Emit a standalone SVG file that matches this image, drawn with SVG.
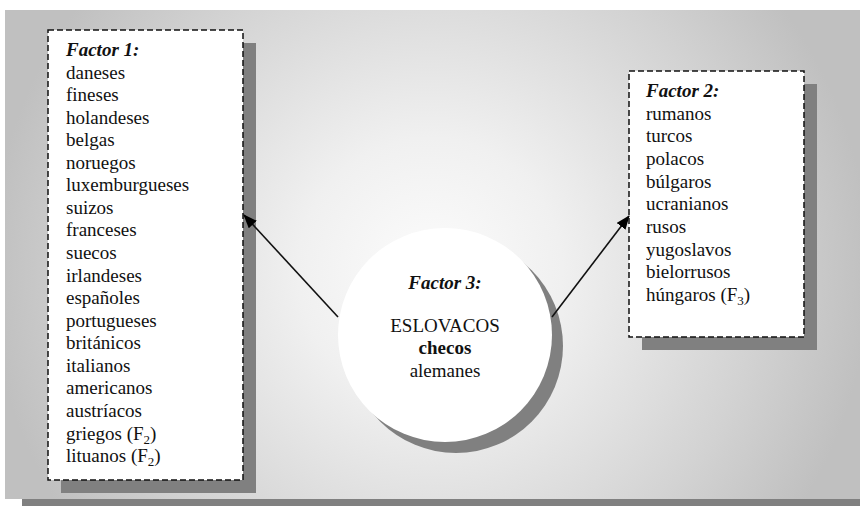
<svg xmlns="http://www.w3.org/2000/svg" width="860" height="506" viewBox="0 0 860 506">
<defs>
<radialGradient id="bg" gradientUnits="userSpaceOnUse" cx="430" cy="270" r="440">
<stop offset="0" stop-color="#fcfcfc"/>
<stop offset="0.3" stop-color="#f0f0f0"/>
<stop offset="0.75" stop-color="#d2d2d2"/>
<stop offset="1" stop-color="#c0c0c0"/>
</radialGradient>
<marker id="ah" markerWidth="14" markerHeight="11" refX="13" refY="5.5" orient="auto" markerUnits="userSpaceOnUse">
<path d="M0,0 L14,5.5 L0,11 Z" fill="#000"/>
</marker>
</defs>
<style>
.t{font-family:"Liberation Serif","Times New Roman",serif;font-size:19px;fill:#111}
.h{font-weight:bold;font-style:italic}
.box{fill:#fff;stroke:#111;stroke-width:1.5;stroke-dasharray:6 3}
.sh{fill:#808080}
.conn{stroke:#111;stroke-width:1.6;fill:none;marker-end:url(#ah)}
</style>
<rect x="22" y="499" width="838" height="7" fill="#808080"/>
<rect x="5" y="10" width="855" height="489" fill="url(#bg)"/>
<g id="factor1">
<rect class="sh" x="61" y="43" width="195" height="450"/>
<rect class="box" x="48" y="30" width="195" height="450"/>
<text class="t" x="66" y="56"><tspan class="h">Factor 1:</tspan><tspan x="66" dy="22.56">daneses</tspan><tspan x="66" dy="22.56">fineses</tspan><tspan x="66" dy="22.56">holandeses</tspan><tspan x="66" dy="22.56">belgas</tspan><tspan x="66" dy="22.56">noruegos</tspan><tspan x="66" dy="22.56">luxemburgueses</tspan><tspan x="66" dy="22.56">suizos</tspan><tspan x="66" dy="22.56">franceses</tspan><tspan x="66" dy="22.56">suecos</tspan><tspan x="66" dy="22.56">irlandeses</tspan><tspan x="66" dy="22.56">españoles</tspan><tspan x="66" dy="22.56">portugueses</tspan><tspan x="66" dy="22.56">británicos</tspan><tspan x="66" dy="22.56">italianos</tspan><tspan x="66" dy="22.56">americanos</tspan><tspan x="66" dy="22.56">austríacos</tspan><tspan x="66" dy="22.56">griegos (F</tspan><tspan dy="4" font-size="13">2</tspan><tspan dy="-4">)</tspan><tspan x="66" dy="22.56">lituanos (F</tspan><tspan dy="4" font-size="13">2</tspan><tspan dy="-4">)</tspan></text>
</g>
<g id="factor2">
<rect class="sh" x="642" y="84" width="175" height="266"/>
<rect class="box" x="629" y="71" width="175" height="266"/>
<text class="t" x="646" y="97"><tspan class="h">Factor 2:</tspan><tspan x="646" dy="22.67">rumanos</tspan><tspan x="646" dy="22.67">turcos</tspan><tspan x="646" dy="22.67">polacos</tspan><tspan x="646" dy="22.67">búlgaros</tspan><tspan x="646" dy="22.67">ucranianos</tspan><tspan x="646" dy="22.67">rusos</tspan><tspan x="646" dy="22.67">yugoslavos</tspan><tspan x="646" dy="22.67">bielorrusos</tspan><tspan x="646" dy="22.67">húngaros (F</tspan><tspan dy="4" font-size="13">3</tspan><tspan dy="-4">)</tspan></text>
</g>
<g id="factor3">
<circle class="sh" cx="456" cy="346" r="107"/>
<circle cx="445" cy="335" r="107" fill="#fff"/>
<text class="t h" x="445" y="289" text-anchor="middle">Factor 3:</text>
<text class="t" x="445" y="332" text-anchor="middle">ESLOVACOS</text>
<text class="t" x="445" y="354" text-anchor="middle" font-weight="bold">checos</text>
<text class="t" x="445" y="377" text-anchor="middle">alemanes</text>
</g>
<g id="connectors">
<line class="conn" x1="338" y1="317" x2="244" y2="215"/>
<line class="conn" x1="552" y1="317" x2="629" y2="216"/>
</g>
</svg>
